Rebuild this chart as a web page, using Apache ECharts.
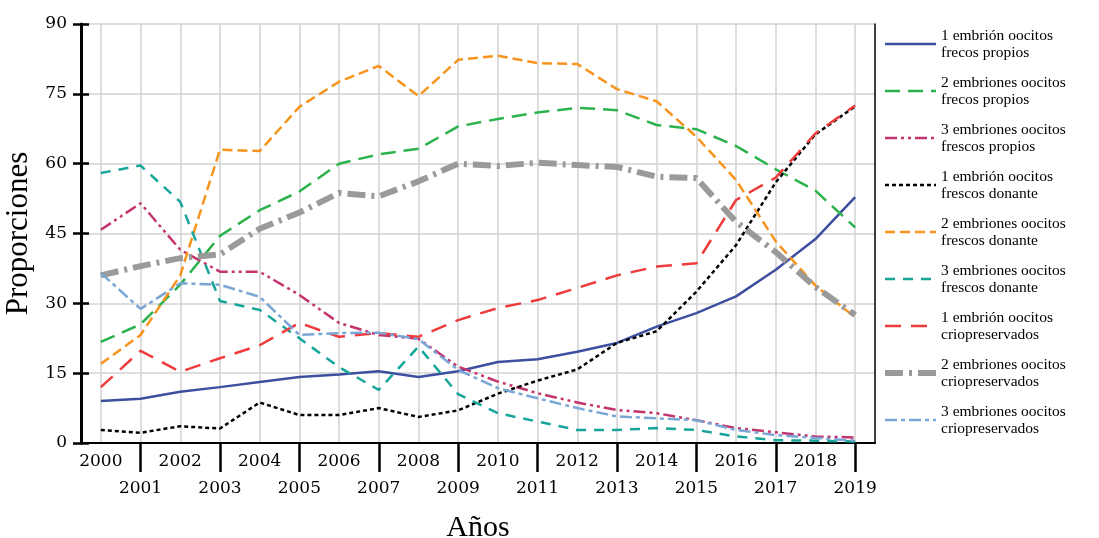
<!DOCTYPE html>
<html>
<head>
<meta charset="utf-8">
<script src="https://cdn.jsdelivr.net/npm/echarts@6/dist/echarts.min.js"></script>
<style>
    html, body { margin: 0; padding: 0; background: #fff; }
    #chart { width: 1099px; height: 538px; }
</style>
</head>
<body>
<div id="chart"></div>
<script>
    // años del eje x
    const years = ['2000','2001','2002','2003','2004','2005','2006','2007','2008','2009',
                   '2010','2011','2012','2013','2014','2015','2016','2017','2018','2019']
    const yTicks = [0, 15, 30, 45, 60, 75, 90]

    // valores (proporciones)
    const unoFrescosPropios = [9, 9.5, 11, 12, 13.1, 14.2, 14.7, 15.4, 14.2, 15.4, 17.4, 18, 19.6, 21.5, 25, 27.9, 31.5, 37.2, 43.8, 52.8]
    const dosFrescosPropios = [21.7, 25.5, 34, 44.5, 50, 54, 60, 62, 63.2, 68, 69.6, 71, 72, 71.5, 68.3, 67.4, 63.8, 58.8, 54.2, 46.3]
    const tresFrescosPropios = [45.8, 51.5, 41.5, 36.8, 36.8, 31.8, 25.8, 23.2, 22.4, 16.4, 13.2, 10.7, 8.7, 7.1, 6.4, 4.9, 3.2, 2.3, 1.4, 1.2]
    const unoFrescosDonante = [2.8, 2.2, 3.6, 3.1, 8.7, 6, 6, 7.5, 5.6, 7, 10.6, 13.4, 15.8, 21.5, 24, 32.5, 42.5, 56, 66.3, 72.3]
    const dosFrescosDonante = [17, 23.2, 36, 63, 62.7, 72.2, 77.6, 81, 74.5, 82.3, 83.2, 81.6, 81.4, 76, 73.4, 65.8, 56.5, 43.3, 33.8, 27]
    const tresFrescosDonante = [58, 59.6, 51.8, 30.5, 28.6, 22.5, 16.3, 11.4, 20.7, 10.5, 6.4, 4.6, 2.8, 2.8, 3.2, 2.8, 1.4, 0.6, 0.5, 0.3]
    const unoCrio = [12, 19.8, 15.3, 18.2, 21, 25.8, 22.8, 23.6, 22.8, 26.4, 29, 30.7, 33.3, 36, 37.9, 38.6, 52.2, 57, 66.5, 72.5]
    const dosCrio = [36, 38, 39.7, 40.5, 46, 49.5, 53.7, 53, 56.2, 60, 59.5, 60.2, 59.7, 59.3, 57.2, 56.9, 47.5, 41, 33.5, 27.5]
    const tresCrio = [36.5, 28.8, 34.3, 34, 31.4, 23.2, 23.6, 23.7, 22.3, 15.7, 11.8, 9.6, 7.5, 5.7, 5.3, 4.9, 2.8, 1.7, 1.1, 0.5]

    const serif = 'Liberation Serif'
    const tickFont = 'DejaVu Serif'

    function mkLine(name, data, color, type, width){
        return {
            type:'line',
            name:name,
            data:data,
            symbol:'none',
            smooth:false,
            lineStyle:{ color:color, type:type, width:width },
            itemStyle:{ color:color, opacity:0 }  // sin círculo en la leyenda
        }
    }

    const seriesArr = [
        mkLine('1 embrión oocitos\nfrecos propios', unoFrescosPropios, '#3d4f9f', 'solid', 2.5),
        mkLine('2 embriones oocitos\nfrecos propios', dosFrescosPropios, '#2bb24c', [15, 8], 2.5),
        mkLine('3 embriones oocitos\nfrescos propios', tresFrescosPropios, '#c4356f', [12, 4, 3, 4, 3, 4], 2.5),
        mkLine('1 embrión oocitos\nfrescos donante', unoFrescosDonante, '#000000', [4, 3], 2.5),
        mkLine('2 embriones oocitos\nfrescos donante', dosFrescosDonante, '#f7941e', [10, 5], 2.5),
        mkLine('3 embriones oocitos\nfrescos donante', tresFrescosDonante, '#17a59a', [10, 8], 2.5),
        mkLine('1 embrión oocitos\ncriopreservados', unoCrio, '#ee3b3b', [16, 10], 2.5),
        mkLine('2 embriones oocitos\ncriopreservados', dosCrio, '#9a9a9a', [18, 6, 3, 6], 6),
        mkLine('3 embriones oocitos\ncriopreservados', tresCrio, '#7aa6d6', [12, 4, 4, 4], 2.5)
    ]

    const chart = echarts.init(document.getElementById('chart'))
    chart.setOption({
        animation:false,
        backgroundColor:'#fff',
        grid:{ left:81, right:224, top:24, bottom:95, containLabel:false, outerBoundsMode:'none' },
        legend:{
            orient:'vertical',
            left:882,
            top:27,
            padding:0,
            itemWidth:51,
            itemHeight:14,
            itemGap:13,
            lineStyle:{ width:'inherit' },
            textStyle:{ fontFamily:serif, fontSize:15.5, lineHeight:17, color:'#000' }
        },
        xAxis:[
            {
                type:'category',
                data:years,
                boundaryGap:true,
                name:'Años',
                nameLocation:'middle',
                nameGap:70,
                nameTextStyle:{ fontFamily:serif, fontSize:30, color:'#000' },
                axisLine:{ lineStyle:{ color:'#000', width:2 } },
                axisTick:{ inside:true, length:15, alignWithLabel:true, interval:0, lineStyle:{ color:'#000', width:2.5 } },
                axisLabel:{
                    interval:0,
                    margin:5,
                    fontFamily:tickFont,
                    fontSize:17,
                    lineHeight:27,
                    color:'#000',
                    formatter:(v, i) => i % 2 ? '\n' + v : v
                },
                splitLine:{ show:true, alignWithLabel:true, interval:0, lineStyle:{ color:'#d2d2d2', width:1.5 } }
            },
            {
                // marcas largas de los años impares
                type:'category',
                data:years,
                boundaryGap:true,
                position:'bottom',
                axisLine:{ show:false },
                axisTick:{ show:true, length:29, alignWithLabel:true, interval:(i) => i % 2 === 1, lineStyle:{ color:'#000', width:2.5 } },
                axisLabel:{ show:false },
                splitLine:{ show:false }
            }
        ],
        yAxis:[
            {
                type:'value',
                min:yTicks[0],
                max:yTicks[yTicks.length - 1],
                interval:15,
                name:'Proporciones',
                nameLocation:'middle',
                nameGap:38,
                nameTextStyle:{ fontFamily:serif, fontSize:31, color:'#000' },
                axisLine:{ show:true, lineStyle:{ color:'#000', width:3 } },
                axisTick:{ show:true, length:8, lineStyle:{ color:'#000', width:2.5 } },
                axisLabel:{ margin:14, fontFamily:tickFont, fontSize:17, color:'#000' },
                splitLine:{ show:true, lineStyle:{ color:'#d2d2d2', width:1.5 } }
            },
            {
                // marcas interiores
                type:'value',
                min:yTicks[0],
                max:yTicks[yTicks.length - 1],
                interval:15,
                position:'left',
                axisLine:{ show:false },
                axisTick:{ show:true, inside:true, length:8, lineStyle:{ color:'#000', width:2.5 } },
                axisLabel:{ show:false },
                splitLine:{ show:false }
            },
            {
                // borde derecho
                type:'value',
                min:yTicks[0],
                max:yTicks[yTicks.length - 1],
                interval:15,
                position:'right',
                axisLine:{ show:true, lineStyle:{ color:'#000', width:1.5 } },
                axisTick:{ show:false },
                axisLabel:{ show:false },
                splitLine:{ show:false }
            }
        ],
        series:seriesArr
    })
</script>
</body>
</html>
